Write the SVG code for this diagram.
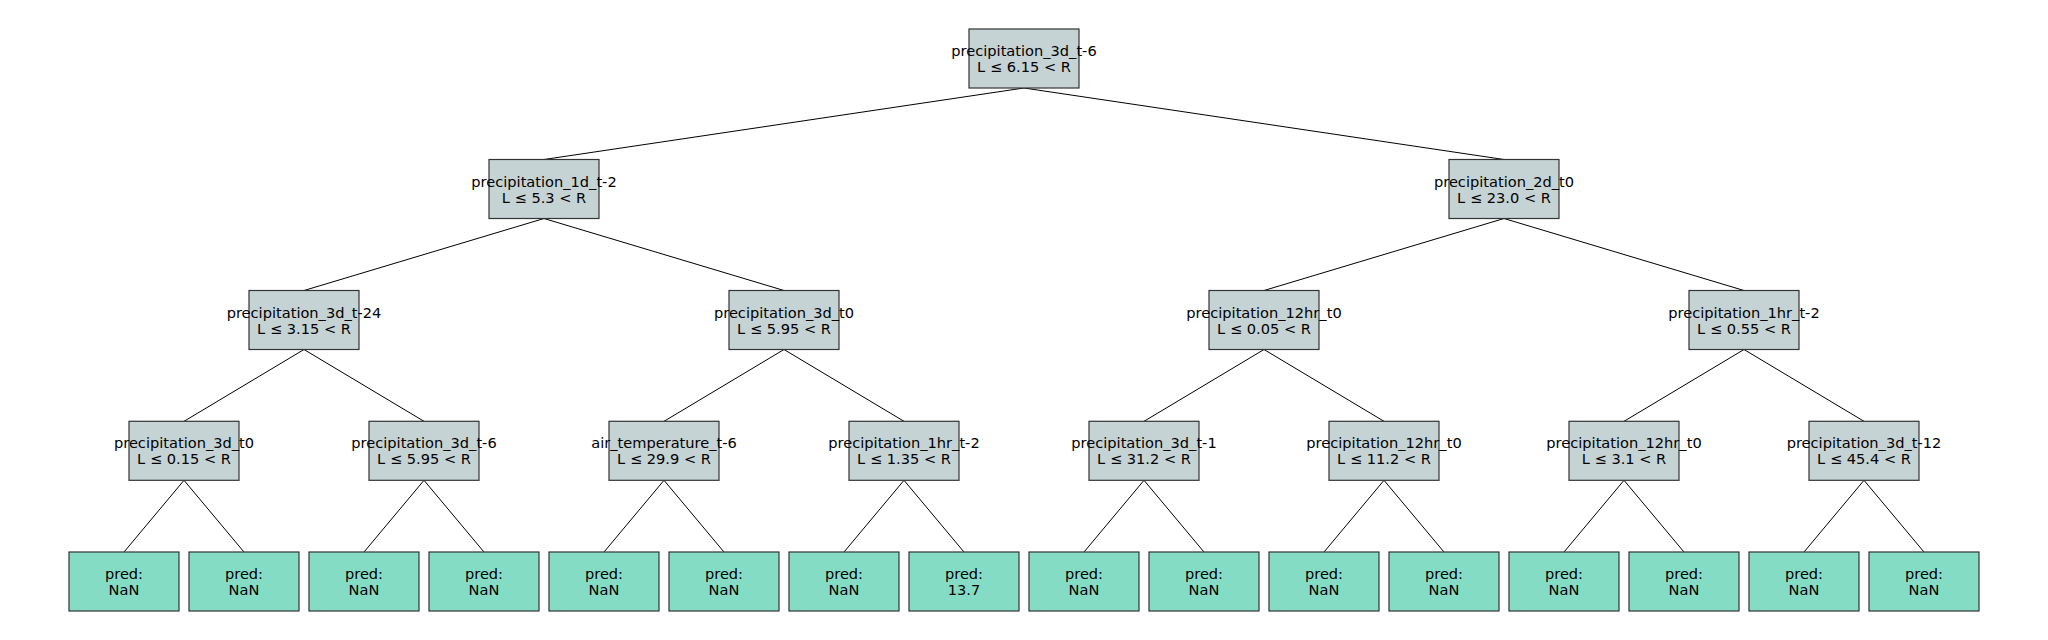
<svg xmlns="http://www.w3.org/2000/svg" width="2048" height="640" viewBox="0 0 2048 640">
<style>
.bg{fill:#ffffff}
.split rect{fill:#c6d3d4;stroke:#333333;stroke-width:1.2}
.leaf rect{fill:#85dcc5;stroke:#333333;stroke-width:1.2}
text{font-family:"DejaVu Sans","Liberation Sans",sans-serif;font-size:14.6px;fill:#000000;text-anchor:middle}
#connectors line{stroke:#000000;stroke-width:1}
</style>
<rect class="bg" x="0" y="0" width="2048" height="640"/>
<g id="connectors">
<line x1="1024" y1="88" x2="544" y2="159.5"/>
<line x1="1024" y1="88" x2="1504" y2="159.5"/>
<line x1="544" y1="218.5" x2="304" y2="290.5"/>
<line x1="544" y1="218.5" x2="784" y2="290.5"/>
<line x1="1504" y1="218.5" x2="1264" y2="290.5"/>
<line x1="1504" y1="218.5" x2="1744" y2="290.5"/>
<line x1="304" y1="349.5" x2="184" y2="421.3"/>
<line x1="304" y1="349.5" x2="424" y2="421.3"/>
<line x1="784" y1="349.5" x2="664" y2="421.3"/>
<line x1="784" y1="349.5" x2="904" y2="421.3"/>
<line x1="1264" y1="349.5" x2="1144" y2="421.3"/>
<line x1="1264" y1="349.5" x2="1384" y2="421.3"/>
<line x1="1744" y1="349.5" x2="1624" y2="421.3"/>
<line x1="1744" y1="349.5" x2="1864" y2="421.3"/>
<line x1="184" y1="480.3" x2="124" y2="552"/>
<line x1="184" y1="480.3" x2="244" y2="552"/>
<line x1="424" y1="480.3" x2="364" y2="552"/>
<line x1="424" y1="480.3" x2="484" y2="552"/>
<line x1="664" y1="480.3" x2="604" y2="552"/>
<line x1="664" y1="480.3" x2="724" y2="552"/>
<line x1="904" y1="480.3" x2="844" y2="552"/>
<line x1="904" y1="480.3" x2="964" y2="552"/>
<line x1="1144" y1="480.3" x2="1084" y2="552"/>
<line x1="1144" y1="480.3" x2="1204" y2="552"/>
<line x1="1384" y1="480.3" x2="1324" y2="552"/>
<line x1="1384" y1="480.3" x2="1444" y2="552"/>
<line x1="1624" y1="480.3" x2="1564" y2="552"/>
<line x1="1624" y1="480.3" x2="1684" y2="552"/>
<line x1="1864" y1="480.3" x2="1804" y2="552"/>
<line x1="1864" y1="480.3" x2="1924" y2="552"/>
</g>
<g id="n0" class="split"><rect x="969" y="29" width="110" height="59"/><text x="1024" y="56">precipitation_3d_t-6</text><text x="1024" y="72">L ≤ 6.15 &lt; R</text></g>
<g id="n1" class="split"><rect x="489" y="159.5" width="110" height="59"/><text x="544" y="186.5">precipitation_1d_t-2</text><text x="544" y="202.5">L ≤ 5.3 &lt; R</text></g>
<g id="n2" class="split"><rect x="1449" y="159.5" width="110" height="59"/><text x="1504" y="186.5">precipitation_2d_t0</text><text x="1504" y="202.5">L ≤ 23.0 &lt; R</text></g>
<g id="n3" class="split"><rect x="249" y="290.5" width="110" height="59"/><text x="304" y="317.5">precipitation_3d_t-24</text><text x="304" y="333.5">L ≤ 3.15 &lt; R</text></g>
<g id="n4" class="split"><rect x="729" y="290.5" width="110" height="59"/><text x="784" y="317.5">precipitation_3d_t0</text><text x="784" y="333.5">L ≤ 5.95 &lt; R</text></g>
<g id="n5" class="split"><rect x="1209" y="290.5" width="110" height="59"/><text x="1264" y="317.5">precipitation_12hr_t0</text><text x="1264" y="333.5">L ≤ 0.05 &lt; R</text></g>
<g id="n6" class="split"><rect x="1689" y="290.5" width="110" height="59"/><text x="1744" y="317.5">precipitation_1hr_t-2</text><text x="1744" y="333.5">L ≤ 0.55 &lt; R</text></g>
<g id="n7" class="split"><rect x="129" y="421.3" width="110" height="59"/><text x="184" y="448.3">precipitation_3d_t0</text><text x="184" y="464.3">L ≤ 0.15 &lt; R</text></g>
<g id="n8" class="split"><rect x="369" y="421.3" width="110" height="59"/><text x="424" y="448.3">precipitation_3d_t-6</text><text x="424" y="464.3">L ≤ 5.95 &lt; R</text></g>
<g id="n9" class="split"><rect x="609" y="421.3" width="110" height="59"/><text x="664" y="448.3">air_temperature_t-6</text><text x="664" y="464.3">L ≤ 29.9 &lt; R</text></g>
<g id="n10" class="split"><rect x="849" y="421.3" width="110" height="59"/><text x="904" y="448.3">precipitation_1hr_t-2</text><text x="904" y="464.3">L ≤ 1.35 &lt; R</text></g>
<g id="n11" class="split"><rect x="1089" y="421.3" width="110" height="59"/><text x="1144" y="448.3">precipitation_3d_t-1</text><text x="1144" y="464.3">L ≤ 31.2 &lt; R</text></g>
<g id="n12" class="split"><rect x="1329" y="421.3" width="110" height="59"/><text x="1384" y="448.3">precipitation_12hr_t0</text><text x="1384" y="464.3">L ≤ 11.2 &lt; R</text></g>
<g id="n13" class="split"><rect x="1569" y="421.3" width="110" height="59"/><text x="1624" y="448.3">precipitation_12hr_t0</text><text x="1624" y="464.3">L ≤ 3.1 &lt; R</text></g>
<g id="n14" class="split"><rect x="1809" y="421.3" width="110" height="59"/><text x="1864" y="448.3">precipitation_3d_t-12</text><text x="1864" y="464.3">L ≤ 45.4 &lt; R</text></g>
<g id="leaf0" class="leaf"><rect x="69" y="552" width="110" height="59"/><text x="124" y="579">pred:</text><text x="124" y="595">NaN</text></g>
<g id="leaf1" class="leaf"><rect x="189" y="552" width="110" height="59"/><text x="244" y="579">pred:</text><text x="244" y="595">NaN</text></g>
<g id="leaf2" class="leaf"><rect x="309" y="552" width="110" height="59"/><text x="364" y="579">pred:</text><text x="364" y="595">NaN</text></g>
<g id="leaf3" class="leaf"><rect x="429" y="552" width="110" height="59"/><text x="484" y="579">pred:</text><text x="484" y="595">NaN</text></g>
<g id="leaf4" class="leaf"><rect x="549" y="552" width="110" height="59"/><text x="604" y="579">pred:</text><text x="604" y="595">NaN</text></g>
<g id="leaf5" class="leaf"><rect x="669" y="552" width="110" height="59"/><text x="724" y="579">pred:</text><text x="724" y="595">NaN</text></g>
<g id="leaf6" class="leaf"><rect x="789" y="552" width="110" height="59"/><text x="844" y="579">pred:</text><text x="844" y="595">NaN</text></g>
<g id="leaf7" class="leaf"><rect x="909" y="552" width="110" height="59"/><text x="964" y="579">pred:</text><text x="964" y="595">13.7</text></g>
<g id="leaf8" class="leaf"><rect x="1029" y="552" width="110" height="59"/><text x="1084" y="579">pred:</text><text x="1084" y="595">NaN</text></g>
<g id="leaf9" class="leaf"><rect x="1149" y="552" width="110" height="59"/><text x="1204" y="579">pred:</text><text x="1204" y="595">NaN</text></g>
<g id="leaf10" class="leaf"><rect x="1269" y="552" width="110" height="59"/><text x="1324" y="579">pred:</text><text x="1324" y="595">NaN</text></g>
<g id="leaf11" class="leaf"><rect x="1389" y="552" width="110" height="59"/><text x="1444" y="579">pred:</text><text x="1444" y="595">NaN</text></g>
<g id="leaf12" class="leaf"><rect x="1509" y="552" width="110" height="59"/><text x="1564" y="579">pred:</text><text x="1564" y="595">NaN</text></g>
<g id="leaf13" class="leaf"><rect x="1629" y="552" width="110" height="59"/><text x="1684" y="579">pred:</text><text x="1684" y="595">NaN</text></g>
<g id="leaf14" class="leaf"><rect x="1749" y="552" width="110" height="59"/><text x="1804" y="579">pred:</text><text x="1804" y="595">NaN</text></g>
<g id="leaf15" class="leaf"><rect x="1869" y="552" width="110" height="59"/><text x="1924" y="579">pred:</text><text x="1924" y="595">NaN</text></g>
</svg>
